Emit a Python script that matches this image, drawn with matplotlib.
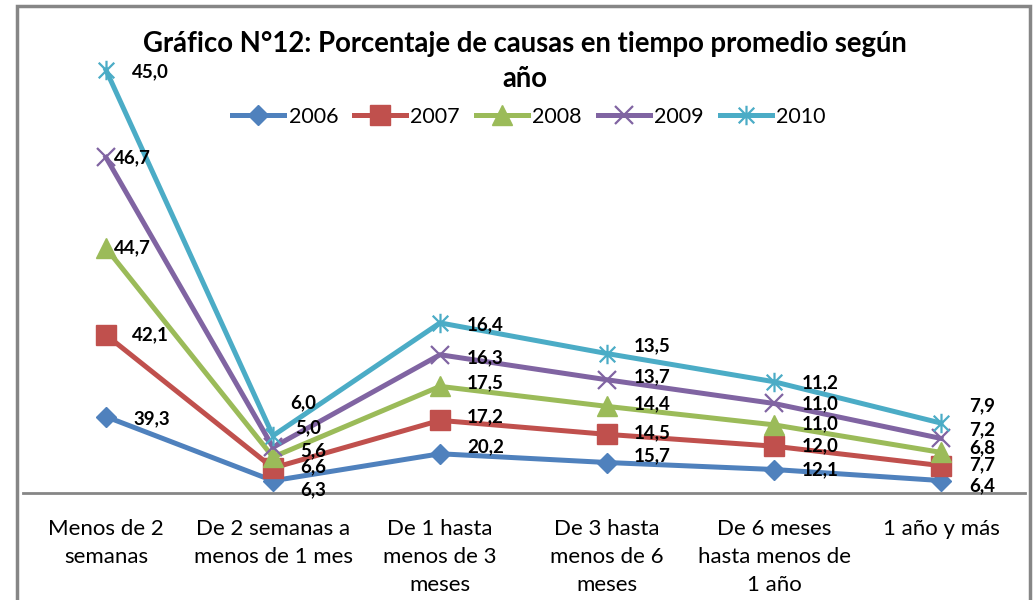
import numpy as np
import matplotlib
matplotlib.use("Agg")
import matplotlib.pyplot as plt
from matplotlib.path import Path
from matplotlib.patches import Rectangle

plt.rcParams['font.family'] = ['Lato', 'DejaVu Sans']

categories = ["Menos de 2\nsemanas", "De 2 semanas a\nmenos de 1 mes", "De 1 hasta\nmenos de 3\nmeses",
              "De 3 hasta\nmenos de 6\nmeses", "De 6 meses\nhasta menos de\n1 año", "1 año y más"]
years = ["2006", "2007", "2008", "2009", "2010"]
v2006 = [39.3, 6.3, 20.2, 15.7, 12.1, 6.4]
v2007 = [42.1, 6.6, 17.2, 14.5, 12.0, 7.7]
v2008 = [44.7, 5.6, 17.5, 14.4, 11.0, 6.8]
v2009 = [46.7, 5.0, 16.3, 13.7, 11.0, 7.2]
v2010 = [45.0, 6.0, 16.4, 13.5, 11.2, 7.9]
title_lines = ["Gráfico N°12: Porcentaje de causas en tiempo promedio según", "año"]

series = [v2006, v2007, v2008, v2009, v2010]
colors = ["#4F81BD", "#C0504D", "#9BBB59", "#8064A2", "#4BACC6"]

star = Path([(0, -1), (0, 1), (-0.8, -0.8), (0.8, 0.8), (-0.8, 0.8), (0.8, -0.8)],
            [Path.MOVETO, Path.LINETO, Path.MOVETO, Path.LINETO, Path.MOVETO, Path.LINETO])
markers = ["D", "s", "^", "x", star]
msizes = [10, 14, 14, 13, 14]
mew = [1, 1, 1, 1.6, 1.6]

# label offsets in pixels (dx, dy) per series x category
offsets = [
    [(27, -2), (27, -9), (27, 7), (27, 7), (28, 0), (28, -5)],
    [(26, 0), (27, 1), (27, 4), (27, 2), (28, 0), (28, 1)],
    [(8, 0), (27, 6), (27, 4), (27, 3), (28, 1), (28, 5)],
    [(8, 0), (22, 20), (27, -3), (27, 3), (28, 0), (28, 9)],
    [(26, -2), (17, 33), (27, -2), (27, 8), (28, -1), (28, 17)],
]

W, H = 1036, 600
fig = plt.figure(figsize=(W / 100, H / 100), dpi=100)
ax = fig.add_axes([22.5 / W, 1 - 493 / H, (1024.5 - 22.5) / W, (493 - 7.5) / H])

x = np.arange(len(categories))
cum = np.cumsum(np.array(series), axis=0)

for i, (yr, c) in enumerate(zip(years, colors)):
    ax.plot(x, cum[i], color=c, lw=3.6, marker=markers[i], ms=msizes[i],
            mew=mew[i], mec=c, mfc=c, label=yr, clip_on=False, zorder=3 + i)
    for j in range(len(categories)):
        dx, dy = offsets[i][j]
        ax.annotate(f"{series[i][j]:.1f}".replace(".", ","), (x[j], cum[i][j]),
                    xytext=(dx, dy), textcoords="offset pixels", ha="left", va="center",
                    fontsize=13.5, fontweight="bold", color="black", zorder=20)

ax.set_xlim(-0.5, 5.5)
ax.set_ylim(0, 250)
ax.set_yticks([])
ax.set_xticks(x)
ax.set_xticklabels(categories, fontsize=16, linespacing=1.5)
ax.tick_params(axis="x", length=0, pad=19)
for s in ["top", "left", "right"]:
    ax.spines[s].set_visible(False)
ax.spines["bottom"].set_color("#868686")
ax.spines["bottom"].set_linewidth(2)
ax.patch.set_alpha(0)

fig.text(525 / W, 1 - 44 / H, title_lines[0], ha="center", va="center", fontsize=19.8,
         fontweight="bold")
fig.text(525 / W, 1 - 79 / H, title_lines[1], ha="center", va="center", fontsize=19.8,
         fontweight="bold")

fig.legend(loc="center", bbox_to_anchor=(529 / W, 1 - 117 / H), ncol=5, frameon=False,
           fontsize=15.5, handlelength=2.4, handletextpad=0.22, columnspacing=0.74,
           borderpad=0, borderaxespad=0)

fig.patches.append(Rectangle((17 / W, -0.2), (1030 - 17) / W, 1.2 - 6 / H,
                             transform=fig.transFigure, fill=False, edgecolor="#868686",
                             lw=2.5, clip_on=False))

fig.savefig("out.png", dpi=100)
